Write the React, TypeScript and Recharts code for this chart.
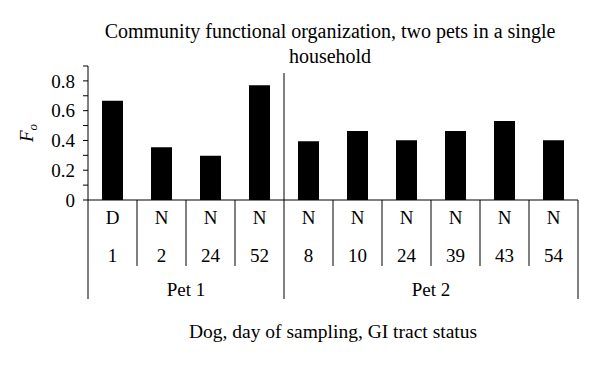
import { Bar, BarChart, XAxis, YAxis } from "recharts";

const status = ["D", "N", "N", "N", "N", "N", "N", "N", "N", "N"];
const days = ["1", "2", "24", "52", "8", "10", "24", "39", "43", "54"];
const pets = ["Pet 1", "Pet 1", "Pet 1", "Pet 1", "Pet 2", "Pet 2", "Pet 2", "Pet 2", "Pet 2", "Pet 2"];
const fo = [0.667, 0.355, 0.298, 0.771, 0.395, 0.464, 0.402, 0.464, 0.531, 0.402];
const yTicks = [0, 0.1, 0.2, 0.3, 0.4, 0.5, 0.6, 0.7, 0.8, 0.9];

const data = days.map((day, i) => ({
  key: i,
  status: status[i],
  day,
  pet: pets[i],
  fo: fo[i],
}));

const W = 600;
const H = 369;
const X_AXIS_H = 30;
const MARGIN = { top: 66, right: 22, bottom: 169 - X_AXIS_H, left: 38 };
const Y_AXIS_W = 50;
const BAND = (W - MARGIN.left - Y_AXIS_W - MARGIN.right) / data.length;
const FONT = "'Liberation Serif', 'DejaVu Serif', serif";

function CategoryTick(props: any) {
  const { x, y, payload } = props;
  const i = payload.value as number;
  const left = x - BAND / 2;
  const groupStart = i === 0 || pets[i] !== pets[i - 1];
  const last = i === data.length - 1;
  const groupSize = pets.filter((p) => p === pets[i]).length;
  return (
    <g style={{ fontFamily: FONT, fontSize: 19 }} fill="#000">
      {groupStart ? (
        <line x1={left} x2={left} y1={i === 0 ? y : y - 127} y2={y + 99} stroke="#000" />
      ) : (
        <line x1={left} x2={left} y1={y} y2={y + 66} stroke="#000" />
      )}
      {last && <line x1={x + BAND / 2} x2={x + BAND / 2} y1={y} y2={y + 99} stroke="#000" />}
      <text x={x} y={y + 24} textAnchor="middle">
        {status[i]}
      </text>
      <text x={x} y={y + 62} textAnchor="middle">
        {days[i]}
      </text>
      {groupStart && (
        <text x={left + (groupSize * BAND) / 2} y={y + 96} textAnchor="middle">
          {pets[i]}
        </text>
      )}
    </g>
  );
}

export default function App() {
  return (
    <div style={{ position: "absolute", left: 0, top: 0, width: W, height: H, background: "#fff" }}>
      <div
        style={{
          position: "absolute",
          left: 60,
          width: 540,
          top: 19,
          textAlign: "center",
          fontFamily: FONT,
          fontSize: 20,
          lineHeight: "25px",
          color: "#000",
        }}
      >
        Community functional organization, two pets in a single
        <br />
        household
      </div>
      <div
        style={{
          position: "absolute",
          left: 60,
          width: 546,
          top: 321,
          textAlign: "center",
          fontFamily: FONT,
          fontSize: 19.5,
          color: "#000",
        }}
      >
        Dog, day of sampling, GI tract status
      </div>
      <BarChart width={W} height={H} data={data} margin={MARGIN} barCategoryGap={0}>
        <YAxis
          width={Y_AXIS_W}
          domain={[0, 0.9]}
          ticks={yTicks}
          interval={0}
          tickSize={5}
          tickMargin={8}
          axisLine={{ stroke: "#000" }}
          tickLine={{ stroke: "#000" }}
          tick={{ fill: "#000", fontSize: 19, style: { fontFamily: FONT } }}
          tickFormatter={(v: number) => (Math.round(v * 10) % 2 === 0 && v < 0.85 ? (v === 0 ? "0" : v.toFixed(1)) : "")}
          label={({ viewBox }: any) => (
            <text
              transform={`translate(${viewBox.x - 5}, ${viewBox.y + viewBox.height / 2}) rotate(-90)`}
              textAnchor="middle"
              style={{ fontFamily: FONT, fontSize: 19, fontStyle: "italic" }}
              fill="#000"
            >
              F<tspan style={{ fontSize: 13 }} dy={4}>o</tspan>
            </text>
          )}
        />
        <XAxis
          dataKey="key"
          type="category"
          height={X_AXIS_H}
          interval={0}
          tickLine={false}
          tickSize={0}
          tickMargin={0}
          axisLine={{ stroke: "#000" }}
          tick={<CategoryTick />}
        />
        <Bar dataKey="fo" fill="#000" barSize={21} isAnimationActive={false} />
      </BarChart>
    </div>
  );
}
